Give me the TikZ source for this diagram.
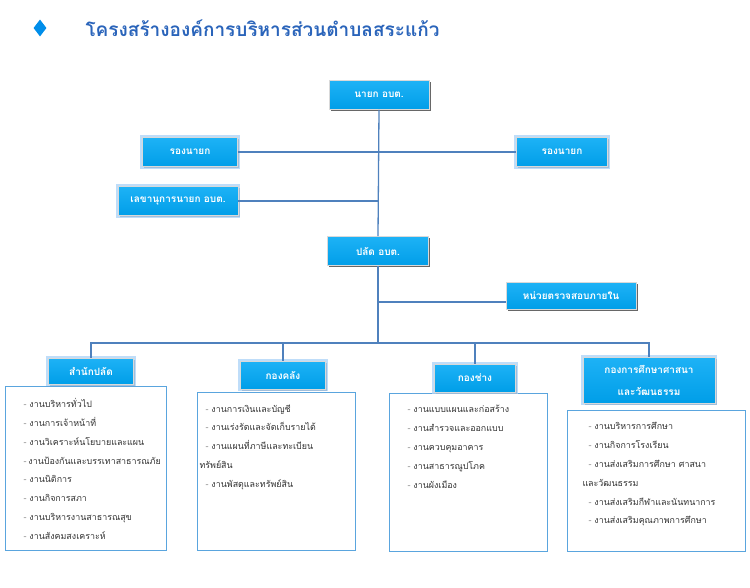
\documentclass[tikz,border=0pt]{standalone}
\usepackage{fontspec}
\newfontfamily\thai[Script=Thai]{Loma}
\usetikzlibrary{shapes.geometric,shadows}

\definecolor{boxtop}{RGB}{30,178,246}
\definecolor{boxbot}{RGB}{0,158,232}
\definecolor{glowblue}{RGB}{175,212,248}
\definecolor{linkblue}{RGB}{79,129,189}
\definecolor{listedge}{RGB}{90,165,222}
\definecolor{titleblue}{RGB}{42,100,186}

\tikzstyle{block}=[rectangle,
    draw=white!70!gray,
    line width=0.6pt,
    top color=boxtop,
    bottom color=boxbot,
    text=white,
    font=\thai\bfseries\fontsize{10}{12}\selectfont,
    minimum height=29pt,
    drop shadow={shadow xshift=1.6pt, shadow yshift=-1.6pt, fill=black!70, opacity=0.85}]
\tikzstyle{glow}=[preaction={draw=glowblue, line width=4.5pt, opacity=0.8}]
\tikzstyle{listbox}=[rectangle,
    draw=listedge,
    line width=1pt,
    fill=white,
    anchor=north west,
    inner ysep=0pt,
    text=black!80,
    font=\thai\fontsize{8.9}{18.8}\selectfont]
\tikzstyle{link}=[draw=linkblue, line width=1.3pt]

\newcommand{\gitem}[1]{\hspace*{6pt}{\color{black!45}-} #1}

\begin{document}
\begin{tikzpicture}[x=1pt,y=-1pt]
    \useasboundingbox (0,0) rectangle (750,588);

    \node (mark) [diamond, fill=boxbot!90!blue, minimum width=13pt, minimum height=17pt, inner sep=0pt] at (40,28) {};
    \node (title) [anchor=west, text=titleblue, font=\thai\bfseries\fontsize{19}{22}\selectfont] at (82,28) {โครงสร้างองค์การบริหารส่วนตำบลสระแก้ว};

    \node (nayok) [block, minimum width=100pt] at (379,95) {นายก อบต.};
    \node (rong1) [block, glow, minimum width=95pt] at (190,152) {รองนายก};
    \node (rong2) [block, glow, minimum width=91pt] at (562,152) {รองนายก};
    \node (lekha) [block, glow, minimum width=120pt] at (178,201) {เลขานุการนายก อบต.};
    \node (palad) [block, minimum width=101pt] at (378,251) {ปลัด อบต.};
    \node (nuai) [block, minimum width=130pt, minimum height=27pt] at (571,296) {หน่วยตรวจสอบภายใน};
    \coordinate (bar) at (378,343);

    \node (samnaklist) [listbox, inner xsep=12pt] at (5,386) {\parbox[t][164pt][t]{137pt}{\vspace*{12pt}%
        \gitem{งานบริหารทั่วไป}\\
        \gitem{งานการเจ้าหน้าที่}\\
        \gitem{งานวิเคราะห์นโยบายและแผน}\\
        \gitem{งานป้องกันและบรรเทาสาธารณภัย}\\
        \gitem{งานนิติการ}\\
        \gitem{งานกิจการสภา}\\
        \gitem{งานบริหารงานสาธารณสุข}\\
        \gitem{งานสังคมสงเคราะห์}}};
    \node (klanglist) [listbox, inner xsep=2pt] at (197,392) {\parbox[t][158pt][t]{154pt}{\vspace*{12pt}%
        \gitem{งานการเงินและบัญชี}\\
        \gitem{งานเร่งรัดและจัดเก็บรายได้}\\
        \gitem{งานแผนที่ภาษีและทะเบียน}\\
        ทรัพย์สิน\\
        \gitem{งานพัสดุและทรัพย์สิน}}};
    \node (changlist) [listbox, inner xsep=12pt] at (389,393) {\parbox[t][158pt][t]{134pt}{\vspace*{12pt}%
        \gitem{งานแบบแผนและก่อสร้าง}\\
        \gitem{งานสำรวจและออกแบบ}\\
        \gitem{งานควบคุมอาคาร}\\
        \gitem{งานสาธารณูปโภค}\\
        \gitem{งานผังเมือง}}};
    \node (suksalist) [listbox, inner xsep=15pt] at (567,410) {\parbox[t][141pt][t]{148pt}{\vspace*{12pt}%
        \gitem{งานบริหารการศึกษา}\\
        \gitem{งานกิจการโรงเรียน}\\
        \gitem{งานส่งเสริมการศึกษา ศาสนา}\\
        และวัฒนธรรม\\
        \gitem{งานส่งเสริมกีฬาและนันทนาการ}\\
        \gitem{งานส่งเสริมคุณภาพการศึกษา}}};

    \node (samnak) [block, glow, minimum width=85pt, minimum height=26pt] at (91,371) {สำนักปลัด};
    \node (klang) [block, glow, minimum width=85pt, minimum height=28pt] at (283,375) {กองคลัง};
    \node (chang) [block, glow, minimum width=81pt, minimum height=28pt] at (475,378) {กองช่าง};
    \node (suksa) [block, glow, minimum width=132pt, minimum height=46pt, align=center,
        font=\thai\bfseries\fontsize{10}{22}\selectfont] at (649,380) {กองการศึกษาศาสนา\\และวัฒนธรรม};

    \draw [link] (nayok.south) -- (palad.north);
    \draw [link] (rong1.east) -- (rong2.west);
    \draw [link] (lekha.east) -- (lekha.east -| nayok.south);
    \draw [link] (palad.south) -- (bar);
    \draw [link] (nuai.west) ++(0,6) -- (palad.south |- 0,302);
    \draw [link] (samnak.north) -- (samnak.north |- bar) -- (suksa.north |- bar) -- (suksa.north);
    \draw [link] (klang.north) -- (klang.north |- bar);
    \draw [link] (chang.north) -- (chang.north |- bar);
\end{tikzpicture}
\end{document}
